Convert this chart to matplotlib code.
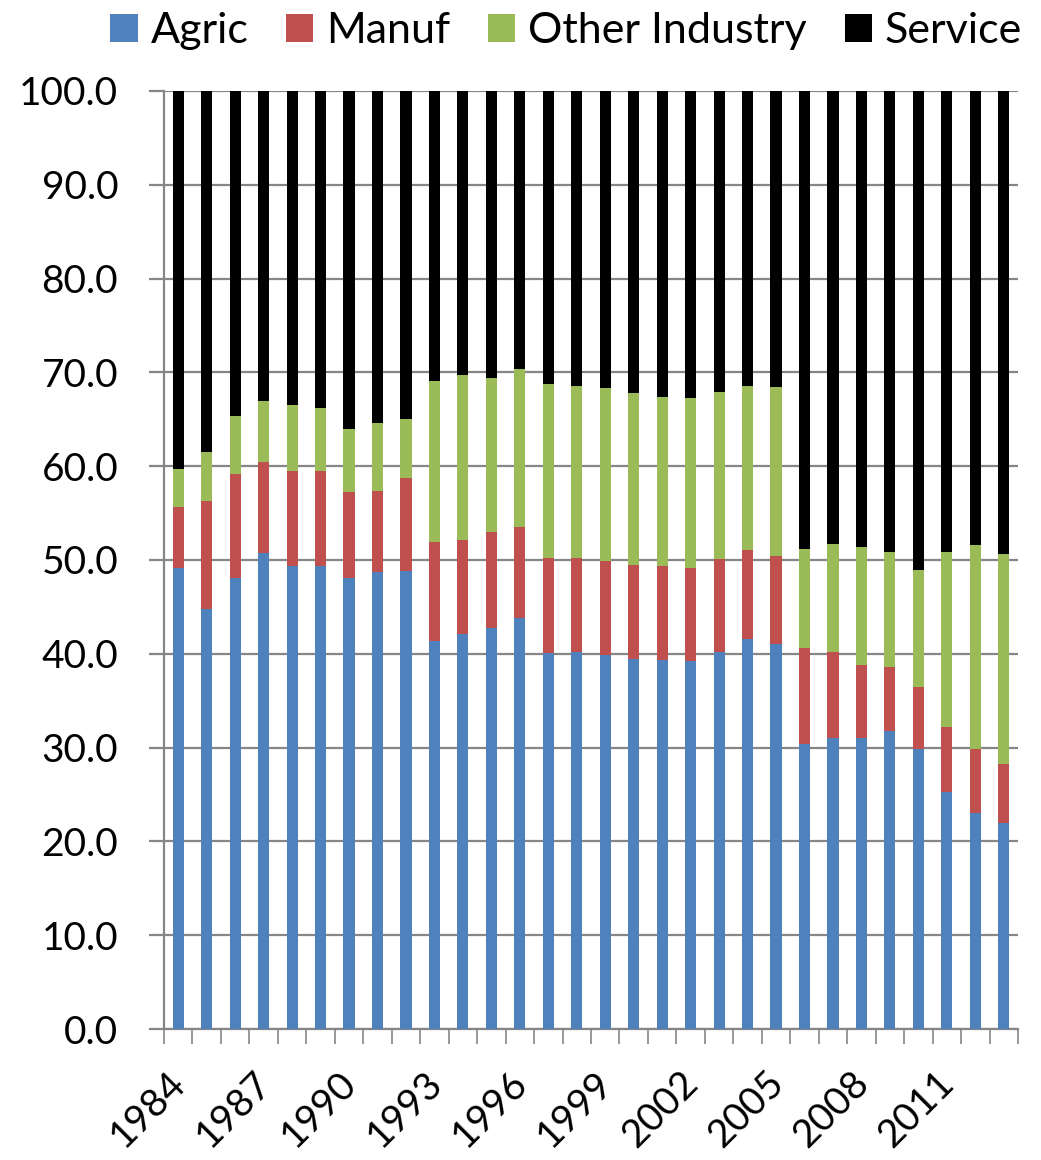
import matplotlib
matplotlib.use("Agg")
import matplotlib.pyplot as plt
from matplotlib.patches import Patch
from matplotlib.transforms import ScaledTranslation
import numpy as np

plt.rcParams['font.family'] = ['Lato', 'DejaVu Sans']

years = list(range(1984, 2014))

# Cumulative shares (% of employment), read as stacked tops
agric = [49.2, 44.8, 48.1, 50.7, 49.4, 49.4, 48.1, 48.7, 48.8, 41.4,
         42.1, 42.7, 43.8, 40.1, 40.2, 39.9, 39.4, 39.3, 39.2, 40.2,
         41.6, 41.0, 30.4, 31.0, 31.0, 31.8, 29.8, 25.3, 23.0, 22.0]
manuf_top = [55.6, 56.3, 59.2, 60.5, 59.5, 59.5, 57.3, 57.4, 58.7, 51.9,
             52.1, 53.0, 53.5, 50.2, 50.2, 49.9, 49.5, 49.4, 49.2, 50.1,
             51.1, 50.4, 40.6, 40.2, 38.8, 38.6, 36.5, 32.2, 29.9, 28.3]
other_top = [59.7, 61.5, 65.3, 67.0, 66.5, 66.2, 64.0, 64.6, 65.0, 69.1,
             69.7, 69.4, 70.4, 68.8, 68.5, 68.3, 67.8, 67.4, 67.3, 67.9,
             68.6, 68.4, 51.2, 51.7, 51.35, 50.8, 48.9, 50.9, 51.6, 50.6]

agric = np.array(agric)
manuf = np.array(manuf_top) - agric
other = np.array(other_top) - np.array(manuf_top)
service = 100.0 - np.array(other_top)

series_names = ["Agric", "Manuf", "Other Industry", "Service"]
colors = ["#4F81BD", "#C0504D", "#9BBB59", "#000000"]
y_ticks = np.arange(0, 101, 10)

fig = plt.figure(figsize=(10.41, 11.6), dpi=100)
ax = fig.add_axes([164 / 1041, 1 - 1029 / 1160, (1018 - 164) / 1041, (1029 - 91) / 1160])

x = np.arange(len(years))
width = 0.39
bottom = np.zeros(len(years))
for vals, col in zip([agric, manuf, other, service], colors):
    ax.bar(x, vals, width, bottom=bottom, color=col, linewidth=0, zorder=3)
    bottom = bottom + vals

ax.set_xlim(-0.5, len(years) - 0.5)
ax.set_ylim(0, 100)

grid_col = "#868686"
ax.set_yticks(y_ticks)
ax.set_yticklabels([f"{v:.1f}" for v in y_ticks], fontsize=28)
ax.yaxis.grid(True, color=grid_col, linewidth=1.6, zorder=0)
ax.tick_params(axis='y', length=11, width=1.6, color=grid_col, pad=22)

# Category labels every third year, ticks between categories
ax.set_xticks(x[::3])
ax.set_xticklabels([str(y) for y in years[::3]], fontsize=28, rotation=45,
                   ha='right', va='top', rotation_mode='anchor')
ax.set_xticks(np.arange(-0.5, len(years), 1), minor=True)
ax.tick_params(axis='x', which='major', length=0, pad=26)
ax.tick_params(axis='x', which='minor', length=11, width=1.2, color=grid_col)
shift = ScaledTranslation(-11 / 100, 0, fig.dpi_scale_trans)
for lab in ax.get_xticklabels():
    lab.set_transform(lab.get_transform() + shift)

for s in ['top', 'right']:
    ax.spines[s].set_visible(False)
for s in ['left', 'bottom']:
    ax.spines[s].set_color(grid_col)
    ax.spines[s].set_linewidth(1.6)

handles = [Patch(facecolor=c, edgecolor='none') for c in colors]
fig.legend(handles, series_names, loc='upper right',
           bbox_to_anchor=(1022 / 1041, 1 - 12 / 1160),
           ncol=4, frameon=False, fontsize=31, handlelength=0.63, handleheight=0.63,
           handletextpad=0.3, columnspacing=0.88, borderaxespad=0, borderpad=0)

fig.savefig("out.png", dpi=100)
